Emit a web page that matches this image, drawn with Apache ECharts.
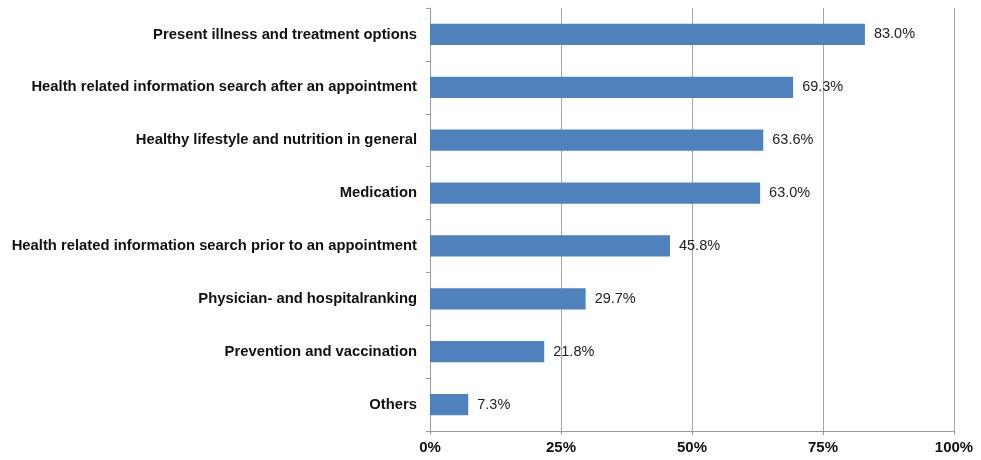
<!DOCTYPE html>
<html>
<head>
<meta charset="utf-8">
<script src="https://cdn.jsdelivr.net/npm/echarts@6/dist/echarts.min.js"></script>
<style>
  html, body { margin: 0; padding: 0; background: #fff; }
  #chart { width: 981px; height: 460px; }
</style>
</head>
<body>
<div id="chart"></div>
<script>
// categories, top to bottom
const categories = [
  'Present illness and treatment options',
  'Health related information search after an appointment',
  'Healthy lifestyle and nutrition in general',
  'Medication',
  'Health related information search prior to an appointment',
  'Physician- and hospitalranking',
  'Prevention and vaccination',
  'Others'
]
const values = [83.0, 69.3, 63.6, 63.0, 45.8, 29.7, 21.8, 7.3]
const xTicks = [0, 25, 50, 75, 100]

const chart = echarts.init(document.getElementById('chart'))

chart.setOption({
  animation: false,
  grid: { left: 430, right: 27, top: 8, bottom: 29 },
  xAxis: {
    type: 'value',
    min: xTicks[0],
    max: xTicks[xTicks.length - 1],
    interval: 25,
    axisLine: { show: true, lineStyle: { color: '#9a9a9a', width: 1 } },
    axisTick: { show: true, length: 4, lineStyle: { color: '#9a9a9a' } },
    axisLabel: {
      formatter: v => v + '%',
      color: '#111',
      fontWeight: 'bold',
      fontSize: 15,
      fontFamily: 'Liberation Sans, Arial, sans-serif',
      margin: 9
    },
    splitLine: { show: true, lineStyle: { color: '#a6a6a6', width: 1 } }
  },
  yAxis: {
    type: 'category',
    data: categories,
    inverse: true,
    axisLine: { show: true, lineStyle: { color: '#9a9a9a', width: 1 } },
    axisTick: { show: true, length: 4, lineStyle: { color: '#9a9a9a' } },
    axisLabel: {
      color: '#111',
      fontWeight: 'bold',
      fontSize: 14.8,
      fontFamily: 'Liberation Sans, Arial, sans-serif',
      margin: 13,
      verticalAlign: 'middle',
      lineHeight: 20,
      padding: [4, 0, 0, 0]
    }
  },
  series: [{
    type: 'bar',
    data: values,
    barWidth: '40%',
    itemStyle: { color: '#4f81bd' },
    label: {
      show: true,
      position: 'right',
      distance: 9,
      formatter: p => p.value.toFixed(1) + '%',
      color: '#222',
      fontSize: 14.5,
      fontFamily: 'Liberation Sans, Arial, sans-serif'
    }
  }]
})
</script>
</body>
</html>
